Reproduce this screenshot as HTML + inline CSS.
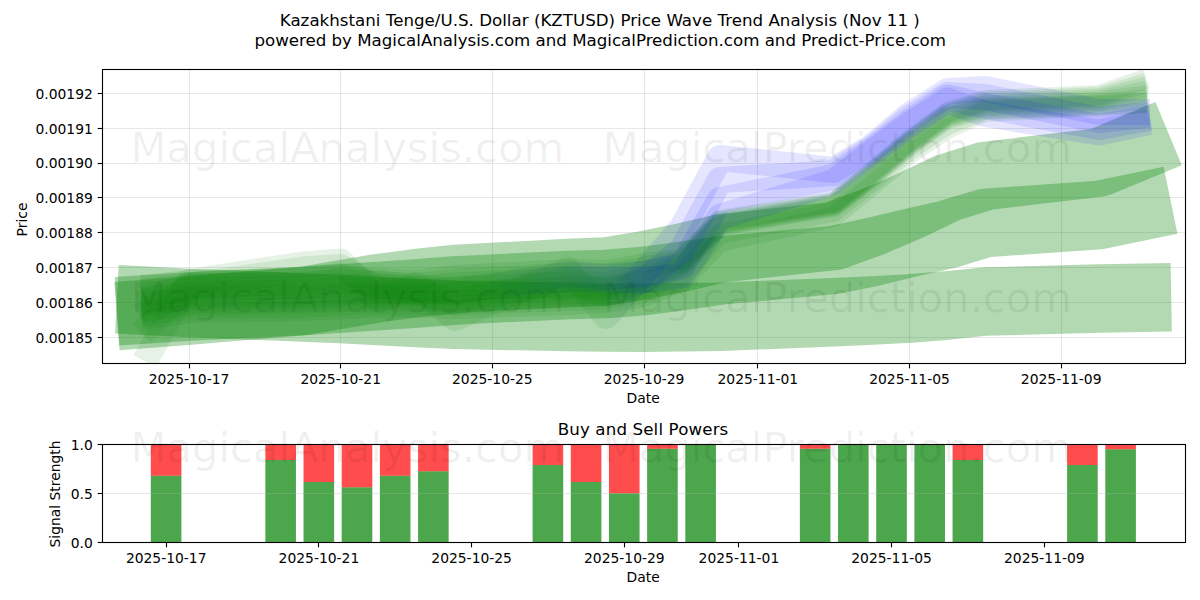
<!DOCTYPE html>
<html lang="en"><head><meta charset="utf-8"><title>KZTUSD Price Wave Trend Analysis</title>
<style>html,body{margin:0;padding:0;background:#fff}svg{display:block}</style></head>
<body>
<svg width="1200" height="600" viewBox="0 0 1200 600" font-family="'DejaVu Sans','Liberation Sans',sans-serif">
<rect width="1200" height="600" fill="#fff"/>
<defs>
<clipPath id="c1"><rect x="102.5" y="69.5" width="1083" height="294"/></clipPath>
<clipPath id="c2"><rect x="102.5" y="444.5" width="1083" height="98"/></clipPath>
<linearGradient id="gb" gradientUnits="userSpaceOnUse" x1="600" y1="0" x2="670" y2="0"><stop offset="0" stop-color="#008000"/><stop offset="1" stop-color="#0000ff"/></linearGradient>
<linearGradient id="gb2" gradientUnits="userSpaceOnUse" x1="480" y1="0" x2="640" y2="0"><stop offset="0" stop-color="#008000"/><stop offset="1" stop-color="#0000ff"/></linearGradient>
<linearGradient id="gf" gradientUnits="userSpaceOnUse" x1="600" y1="0" x2="730" y2="0"><stop offset="0" stop-color="#008000" stop-opacity="1"/><stop offset="1" stop-color="#008000" stop-opacity="0"/></linearGradient>
</defs>
<g stroke="#b0b0b0" stroke-opacity="0.3" stroke-width="1.11">
<line x1="189.50" x2="189.50" y1="69.5" y2="363.5"/>
<line x1="340.50" x2="340.50" y1="69.5" y2="363.5"/>
<line x1="492.50" x2="492.50" y1="69.5" y2="363.5"/>
<line x1="644.50" x2="644.50" y1="69.5" y2="363.5"/>
<line x1="757.50" x2="757.50" y1="69.5" y2="363.5"/>
<line x1="909.50" x2="909.50" y1="69.5" y2="363.5"/>
<line x1="1061.50" x2="1061.50" y1="69.5" y2="363.5"/>
<line x1="102.5" x2="1185.5" y1="337.50" y2="337.50"/>
<line x1="102.5" x2="1185.5" y1="302.50" y2="302.50"/>
<line x1="102.5" x2="1185.5" y1="267.50" y2="267.50"/>
<line x1="102.5" x2="1185.5" y1="232.50" y2="232.50"/>
<line x1="102.5" x2="1185.5" y1="197.50" y2="197.50"/>
<line x1="102.5" x2="1185.5" y1="163.50" y2="163.50"/>
<line x1="102.5" x2="1185.5" y1="128.50" y2="128.50"/>
<line x1="102.5" x2="1185.5" y1="93.50" y2="93.50"/>
</g>
<g clip-path="url(#c1)" fill="none" stroke-linejoin="round" stroke-linecap="square">
<polyline points="151.1,301.0 189.0,303.0 302.8,307.5 340.7,309.0 378.6,311.0 416.5,313.0 454.5,314.8 568.2,317.0 606.1,317.5 644.1,317.7 682.0,317.3 719.9,316.8 833.7,312.3 871.6,310.5 909.5,308.5 947.4,305.5 985.3,301.5 1099.1,298.5 1137.0,297.8" stroke="#008000" stroke-opacity="0.3" stroke-width="68.5"/>
<polyline points="151.1,309.0 189.0,306.5 302.8,301.0 340.7,298.5 378.6,296.0 416.5,293.5 454.5,290.5 568.2,285.0 606.1,284.0 644.1,281.0 682.0,276.0 719.9,270.5 833.7,260.0 871.6,252.1 909.5,243.0 947.4,234.4 985.3,223.0 1099.1,215.0 1137.0,207.2" stroke="#008000" stroke-opacity="0.3" stroke-width="68.5"/>
<polyline points="151.1,313.5 189.0,310.5 302.8,301.0 340.7,294.6 378.6,288.1 416.5,283.1 454.5,279.0 568.2,273.0 606.1,271.5 644.1,265.3 682.0,257.5 719.9,248.5 833.7,236.0 871.6,222.2 909.5,206.0 947.4,187.9 985.3,176.0 1099.1,162.5 1137.0,146.7" stroke="#008000" stroke-opacity="0.3" stroke-width="68.5"/>
<polyline points="151.1,284.0 189.0,280.0 302.8,278.0 340.7,276.0 378.6,278.0 416.5,280.0 454.5,275.0 568.2,269.0 606.1,270.0 644.1,263.0 682.0,259.0 719.9,220.0 833.7,202.0 871.6,172.0 909.5,140.0 947.4,112.0 985.3,100.0 1099.1,95.0 1137.0,82.0" stroke="#008000" stroke-opacity="0.1" stroke-width="20"/>
<polyline points="151.1,287.8 189.0,283.6 302.8,281.6 340.7,279.6 378.6,281.2 416.5,283.0 454.5,278.7 568.2,272.9 606.1,273.6 644.1,266.7 682.0,260.4 719.9,221.2 833.7,203.0 871.6,173.2 909.5,141.2 947.4,113.4 985.3,101.8 1099.1,96.8 1137.0,85.6" stroke="#008000" stroke-opacity="0.1" stroke-width="20"/>
<polyline points="151.1,291.6 189.0,287.2 302.8,285.2 340.7,283.2 378.6,284.4 416.5,286.0 454.5,282.4 568.2,276.8 606.1,277.2 644.1,270.4 682.0,261.8 719.9,222.4 833.7,204.0 871.6,174.4 909.5,142.4 947.4,114.8 985.3,103.6 1099.1,98.6 1137.0,89.2" stroke="#008000" stroke-opacity="0.1" stroke-width="20"/>
<polyline points="151.1,296.2 189.0,291.5 302.8,289.5 340.7,287.5 378.6,288.2 416.5,289.6 454.5,286.8 568.2,281.5 606.1,281.5 644.1,274.8 682.0,263.2 719.9,223.6 833.7,205.0 871.6,175.6 909.5,143.6 947.4,116.2 985.3,105.4 1099.1,100.4 1137.0,92.8" stroke="#008000" stroke-opacity="0.1" stroke-width="20"/>
<polyline points="151.1,300.7 189.0,295.8 302.8,293.8 340.7,291.8 378.6,292.1 416.5,293.2 454.5,291.3 568.2,286.2 606.1,285.8 644.1,279.3 682.0,264.6 719.9,224.8 833.7,206.0 871.6,176.8 909.5,144.8 947.4,117.6 985.3,107.2 1099.1,102.2 1137.0,96.4" stroke="#008000" stroke-opacity="0.1" stroke-width="20"/>
<polyline points="151.1,305.3 189.0,300.2 302.8,298.2 340.7,296.2 378.6,295.9 416.5,296.8 454.5,295.7 568.2,290.8 606.1,290.2 644.1,283.7 682.0,266.0 719.9,226.0 833.7,207.0 871.6,178.0 909.5,146.0 947.4,119.0 985.3,109.0 1099.1,104.0 1137.0,100.0" stroke="#008000" stroke-opacity="0.1" stroke-width="20"/>
<polyline points="151.1,311.4 189.0,305.9 302.8,303.9 340.7,301.9 378.6,301.0 416.5,301.6 454.5,301.6 568.2,297.1 606.1,295.9 644.1,289.6 682.0,276.0 719.9,234.0 833.7,212.0 871.6,182.0 909.5,150.0 947.4,125.0 985.3,110.0 1099.1,105.0 1137.0,103.0" stroke="#008000" stroke-opacity="0.1" stroke-width="20"/>
<polyline points="151.1,319.0 189.0,313.1 302.8,311.1 340.7,309.1 378.6,307.4 416.5,307.6 454.5,309.0 568.2,304.9 606.1,303.1 644.1,297.0 682.0,282.0 719.9,242.0 833.7,217.0 871.6,186.0 909.5,154.0 947.4,129.0 985.3,112.0 1099.1,106.0 1137.0,104.0" stroke="#008000" stroke-opacity="0.1" stroke-width="20"/>
<polyline points="151.1,303.0 189.0,298.0 302.8,296.0 340.7,294.0 378.6,294.0 416.5,295.0 454.5,293.5 568.2,288.5 606.1,288.0 644.1,281.5 682.0,270.0 719.9,228.0 833.7,208.0 871.6,178.0 909.5,146.0 947.4,119.0 985.3,108.0 1099.1,103.0 1137.0,98.0" stroke="url(#gf)" stroke-opacity="0.1" stroke-width="20"/>
<polyline points="151.1,309.1 189.0,303.8 302.8,301.8 340.7,299.8 378.6,299.1 416.5,299.8 454.5,299.4 568.2,294.7 606.1,293.8 644.1,287.4 682.0,274.0 719.9,230.0 833.7,210.0 871.6,180.0 909.5,148.0 947.4,121.0 985.3,109.0 1099.1,104.0 1137.0,100.0" stroke="url(#gf)" stroke-opacity="0.1" stroke-width="20"/>
<polyline points="151.1,315.2 189.0,309.5 302.8,307.5 340.7,305.5 378.6,304.2 416.5,304.6 454.5,305.3 568.2,301.0 606.1,299.5 644.1,293.3 682.0,278.0 719.9,232.0 833.7,212.0 871.6,182.0 909.5,150.0 947.4,123.0 985.3,110.0 1099.1,104.0 1137.0,102.0" stroke="url(#gf)" stroke-opacity="0.1" stroke-width="20"/>
<polyline points="151.1,350.0 189.0,282.0 302.8,264.5 340.7,261.5 378.6,300.0 416.5,285.0 454.5,318.0 568.2,270.0 606.1,316.0 644.1,272.0 682.0,228.0 719.9,158.0 833.7,170.0 871.6,147.0 909.5,115.0 947.4,91.3 985.3,89.0 1099.1,112.0 1137.0,112.0" stroke="url(#gb)" stroke-opacity="0.1" stroke-width="26"/>
<polyline points="151.1,324.0 189.0,286.0 302.8,269.5 340.7,267.0 378.6,290.0 416.5,292.0 454.5,302.0 568.2,280.0 606.1,294.0 644.1,280.0 682.0,250.0 719.9,180.0 833.7,173.0 871.6,149.0 909.5,118.0 947.4,95.0 985.3,97.0 1099.1,120.0 1137.0,116.0" stroke="url(#gb)" stroke-opacity="0.1" stroke-width="26"/>
<polyline points="151.1,310.0 189.0,288.0 302.8,280.0 340.7,276.0 378.6,286.0 416.5,290.0 454.5,292.0 568.2,274.0 606.1,277.0 644.1,274.0 682.0,266.0 719.9,200.0 833.7,177.0 871.6,151.0 909.5,122.0 947.4,97.5 985.3,106.0 1099.1,127.0 1137.0,120.0" stroke="url(#gb2)" stroke-opacity="0.1" stroke-width="26"/>
<polyline points="151.1,300.0 189.0,286.0 302.8,286.0 340.7,281.0 378.6,283.0 416.5,288.0 454.5,290.0 568.2,279.0 606.1,280.0 644.1,280.0 682.0,276.0 719.9,217.0 833.7,182.0 871.6,153.0 909.5,125.0 947.4,100.6 985.3,114.0 1099.1,132.5 1137.0,124.7" stroke="url(#gb2)" stroke-opacity="0.1" stroke-width="26"/>
</g>
<g clip-path="url(#c2)">
<rect x="150.80" y="475.75" width="30.60" height="66.75" fill="#008000" fill-opacity="0.7"/>
<rect x="150.80" y="444.50" width="30.60" height="31.25" fill="#ff0000" fill-opacity="0.7"/>
<rect x="265.34" y="460.00" width="30.60" height="82.50" fill="#008000" fill-opacity="0.7"/>
<rect x="265.34" y="444.50" width="30.60" height="15.50" fill="#ff0000" fill-opacity="0.7"/>
<rect x="303.52" y="482.00" width="30.60" height="60.50" fill="#008000" fill-opacity="0.7"/>
<rect x="303.52" y="444.50" width="30.60" height="37.50" fill="#ff0000" fill-opacity="0.7"/>
<rect x="341.70" y="487.25" width="30.60" height="55.25" fill="#008000" fill-opacity="0.7"/>
<rect x="341.70" y="444.50" width="30.60" height="42.75" fill="#ff0000" fill-opacity="0.7"/>
<rect x="379.88" y="475.75" width="30.60" height="66.75" fill="#008000" fill-opacity="0.7"/>
<rect x="379.88" y="444.50" width="30.60" height="31.25" fill="#ff0000" fill-opacity="0.7"/>
<rect x="418.06" y="471.25" width="30.60" height="71.25" fill="#008000" fill-opacity="0.7"/>
<rect x="418.06" y="444.50" width="30.60" height="26.75" fill="#ff0000" fill-opacity="0.7"/>
<rect x="532.60" y="465.00" width="30.60" height="77.50" fill="#008000" fill-opacity="0.7"/>
<rect x="532.60" y="444.50" width="30.60" height="20.50" fill="#ff0000" fill-opacity="0.7"/>
<rect x="570.78" y="482.00" width="30.60" height="60.50" fill="#008000" fill-opacity="0.7"/>
<rect x="570.78" y="444.50" width="30.60" height="37.50" fill="#ff0000" fill-opacity="0.7"/>
<rect x="608.96" y="493.25" width="30.60" height="49.25" fill="#008000" fill-opacity="0.7"/>
<rect x="608.96" y="444.50" width="30.60" height="48.75" fill="#ff0000" fill-opacity="0.7"/>
<rect x="647.14" y="448.75" width="30.60" height="93.75" fill="#008000" fill-opacity="0.7"/>
<rect x="647.14" y="444.50" width="30.60" height="4.25" fill="#ff0000" fill-opacity="0.7"/>
<rect x="685.32" y="444.50" width="30.60" height="98.00" fill="#008000" fill-opacity="0.7"/>
<rect x="799.86" y="448.75" width="30.60" height="93.75" fill="#008000" fill-opacity="0.7"/>
<rect x="799.86" y="444.50" width="30.60" height="4.25" fill="#ff0000" fill-opacity="0.7"/>
<rect x="838.04" y="444.50" width="30.60" height="98.00" fill="#008000" fill-opacity="0.7"/>
<rect x="876.22" y="444.50" width="30.60" height="98.00" fill="#008000" fill-opacity="0.7"/>
<rect x="914.40" y="444.50" width="30.60" height="98.00" fill="#008000" fill-opacity="0.7"/>
<rect x="952.58" y="460.00" width="30.60" height="82.50" fill="#008000" fill-opacity="0.7"/>
<rect x="952.58" y="444.50" width="30.60" height="15.50" fill="#ff0000" fill-opacity="0.7"/>
<rect x="1067.12" y="465.00" width="30.60" height="77.50" fill="#008000" fill-opacity="0.7"/>
<rect x="1067.12" y="444.50" width="30.60" height="20.50" fill="#ff0000" fill-opacity="0.7"/>
<rect x="1105.30" y="449.25" width="30.60" height="93.25" fill="#008000" fill-opacity="0.7"/>
<rect x="1105.30" y="444.50" width="30.60" height="4.75" fill="#ff0000" fill-opacity="0.7"/>
</g>
<g stroke="#b0b0b0" stroke-opacity="0.3" stroke-width="1.11">
<line x1="102.5" x2="1185.5" y1="542.50" y2="542.50"/>
<line x1="102.5" x2="1185.5" y1="493.50" y2="493.50"/>
<line x1="102.5" x2="1185.5" y1="444.50" y2="444.50"/>
</g>
<g stroke="#000" stroke-width="1.11" fill="none" stroke-linecap="square">
<rect x="102.5" y="69.5" width="1083" height="294"/>
<rect x="102.5" y="444.5" width="1083" height="98"/>
</g>
<g stroke="#000" stroke-width="1.11">
<line x1="189.50" x2="189.50" y1="363.5" y2="368.36"/>
<line x1="340.50" x2="340.50" y1="363.5" y2="368.36"/>
<line x1="492.50" x2="492.50" y1="363.5" y2="368.36"/>
<line x1="644.50" x2="644.50" y1="363.5" y2="368.36"/>
<line x1="757.50" x2="757.50" y1="363.5" y2="368.36"/>
<line x1="909.50" x2="909.50" y1="363.5" y2="368.36"/>
<line x1="1061.50" x2="1061.50" y1="363.5" y2="368.36"/>
<line x1="97.64" x2="102.5" y1="337.50" y2="337.50"/>
<line x1="97.64" x2="102.5" y1="302.50" y2="302.50"/>
<line x1="97.64" x2="102.5" y1="267.50" y2="267.50"/>
<line x1="97.64" x2="102.5" y1="232.50" y2="232.50"/>
<line x1="97.64" x2="102.5" y1="197.50" y2="197.50"/>
<line x1="97.64" x2="102.5" y1="163.50" y2="163.50"/>
<line x1="97.64" x2="102.5" y1="128.50" y2="128.50"/>
<line x1="97.64" x2="102.5" y1="93.50" y2="93.50"/>
<line x1="166.50" x2="166.50" y1="542.5" y2="547.36"/>
<line x1="318.50" x2="318.50" y1="542.5" y2="547.36"/>
<line x1="471.50" x2="471.50" y1="542.5" y2="547.36"/>
<line x1="624.50" x2="624.50" y1="542.5" y2="547.36"/>
<line x1="738.50" x2="738.50" y1="542.5" y2="547.36"/>
<line x1="891.50" x2="891.50" y1="542.5" y2="547.36"/>
<line x1="1044.50" x2="1044.50" y1="542.5" y2="547.36"/>
<line x1="97.64" x2="102.5" y1="542.50" y2="542.50"/>
<line x1="97.64" x2="102.5" y1="493.50" y2="493.50"/>
<line x1="97.64" x2="102.5" y1="444.50" y2="444.50"/>
</g>
<g font-size="13.89" fill="#000">
<text x="189.02" y="384.20" text-anchor="middle">2025-10-17</text>
<text x="340.70" y="384.20" text-anchor="middle">2025-10-21</text>
<text x="492.38" y="384.20" text-anchor="middle">2025-10-25</text>
<text x="644.06" y="384.20" text-anchor="middle">2025-10-29</text>
<text x="757.82" y="384.20" text-anchor="middle">2025-11-01</text>
<text x="909.50" y="384.20" text-anchor="middle">2025-11-05</text>
<text x="1061.18" y="384.20" text-anchor="middle">2025-11-09</text>
<text x="92.80" y="342.60" text-anchor="end">0.00185</text>
<text x="92.80" y="307.76" text-anchor="end">0.00186</text>
<text x="92.80" y="272.92" text-anchor="end">0.00187</text>
<text x="92.80" y="238.08" text-anchor="end">0.00188</text>
<text x="92.80" y="203.24" text-anchor="end">0.00189</text>
<text x="92.80" y="168.40" text-anchor="end">0.00190</text>
<text x="92.80" y="133.56" text-anchor="end">0.00191</text>
<text x="92.80" y="98.72" text-anchor="end">0.00192</text>
<text x="166.20" y="563.20" text-anchor="middle">2025-10-17</text>
<text x="318.92" y="563.20" text-anchor="middle">2025-10-21</text>
<text x="471.64" y="563.20" text-anchor="middle">2025-10-25</text>
<text x="624.36" y="563.20" text-anchor="middle">2025-10-29</text>
<text x="738.90" y="563.20" text-anchor="middle">2025-11-01</text>
<text x="891.62" y="563.20" text-anchor="middle">2025-11-05</text>
<text x="1044.34" y="563.20" text-anchor="middle">2025-11-09</text>
<text x="92.80" y="547.80" text-anchor="end">0.0</text>
<text x="92.80" y="498.80" text-anchor="end">0.5</text>
<text x="92.80" y="449.80" text-anchor="end">1.0</text>
<text x="643.2" y="403" text-anchor="middle">Date</text>
<text x="643.2" y="582" text-anchor="middle">Date</text>
<text transform="translate(27,219.5) rotate(-90)" text-anchor="middle">Price</text>
<text transform="translate(59.5,494) rotate(-90)" text-anchor="middle">Signal Strength</text>
</g>
<g font-size="16.67" fill="#000" text-anchor="middle">
<text x="599.8" y="25.7" textLength="640.1" lengthAdjust="spacing">Kazakhstani Tenge/U.S. Dollar (KZTUSD) Price Wave Trend Analysis (Nov 11 )</text>
<text x="600.2" y="46" textLength="691.6" lengthAdjust="spacing">powered by MagicalAnalysis.com and MagicalPrediction.com and Predict-Price.com</text>
<text x="643" y="434.6" textLength="170.6" lengthAdjust="spacing">Buy and Sell Powers</text>
</g>
<g font-size="41.7" fill="#000" fill-opacity="0.06" text-anchor="middle">
<text x="347.3" y="161.8">MagicalAnalysis.com</text>
<text x="837.3" y="161.8">MagicalPrediction.com</text>
<text x="347.3" y="311.8">MagicalAnalysis.com</text>
<text x="837.3" y="311.8">MagicalPrediction.com</text>
<text x="347.3" y="461.8">MagicalAnalysis.com</text>
<text x="837.3" y="461.8">MagicalPrediction.com</text>
</g>
</svg>
</body></html>
